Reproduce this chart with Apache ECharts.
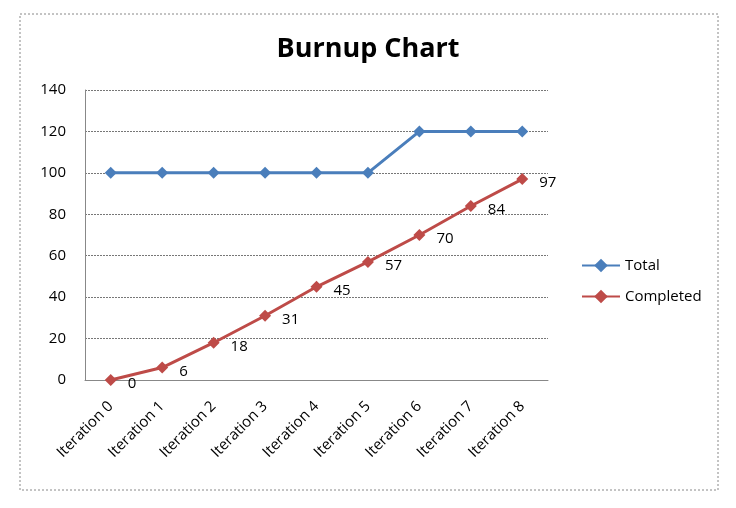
<!DOCTYPE html>
<html>
<head>
<meta charset="utf-8">
<script src="https://cdn.jsdelivr.net/npm/echarts@6/dist/echarts.min.js"></script>
<style>
  html, body { margin: 0; padding: 0; background: #fff; }
  #chart { width: 736px; height: 508px; }
</style>
</head>
<body>
<div id="chart"></div>
<script>
const iterations = ["Iteration 0", "Iteration 1", "Iteration 2", "Iteration 3", "Iteration 4",
  "Iteration 5", "Iteration 6", "Iteration 7", "Iteration 8"];
const total = [100, 100, 100, 100, 100, 100, 120, 120, 120];
const completed = [0, 6, 18, 31, 45, 57, 70, 84, 97];

const font = "'Open Sans', 'Noto Sans', sans-serif";

echarts.init(document.getElementById("chart")).setOption({
  animation: false,
  textStyle: { fontFamily: font },
  title: {
    text: "Burnup Chart", left: "center", top: 31,
    textStyle: { fontSize: 27, fontWeight: "bold", color: "#000", fontFamily: font }
  },
  graphic: [{
    type: "rect", shape: { x: 20, y: 14, width: 698, height: 476 },
    style: { fill: "none", stroke: "#888", lineWidth: 1, lineDash: [2, 2] }, silent: true
  }],
  legend: {
    orient: "vertical", left: 576, top: 253, itemGap: 16,
    itemWidth: 38, itemHeight: 17,
    textStyle: { fontSize: 15, color: "#000", fontFamily: font },
    data: ["Total", "Completed"]
  },
  grid: { left: 85, right: 188, top: 90, bottom: 128 },
  xAxis: {
    type: "category", data: iterations, boundaryGap: true,
    axisLine: { lineStyle: { color: "#888" } },
    axisTick: { show: false },
    axisLabel: { rotate: 45, fontSize: 15, color: "#000", margin: 24, interval: 0 }
  },
  yAxis: {
    type: "value", min: 0, max: 140, interval: 20,
    axisLine: { show: true, lineStyle: { color: "#888" } },
    axisTick: { show: false },
    axisLabel: { fontSize: 15, color: "#000", margin: 19 },
    splitLine: { lineStyle: { color: "#777", type: [2, 1] } }
  },
  series: [
    {
      name: "Total", type: "line", data: total,
      symbol: "diamond", symbolSize: 12,
      lineStyle: { color: "#4a7ebb", width: 3 },
      itemStyle: { color: "#4a7ebb" }
    },
    {
      name: "Completed", type: "line", data: completed,
      symbol: "diamond", symbolSize: 12,
      lineStyle: { color: "#be4b48", width: 3 },
      itemStyle: { color: "#be4b48" },
      label: { show: true, position: "right", distance: 11, offset: [0, 4], fontSize: 15, color: "#000" }
    }
  ]
});
</script>
</body>
</html>
